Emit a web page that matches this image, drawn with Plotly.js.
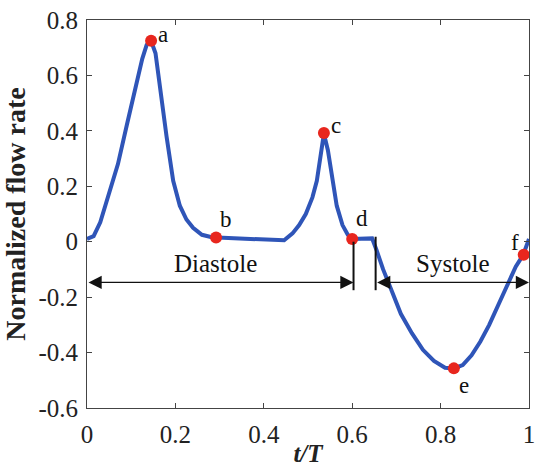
<!DOCTYPE html>
<html>
<head>
<meta charset="utf-8">
<script src="https://cdn.plot.ly/plotly-3.0.1.min.js"></script>
<style>html,body{margin:0;padding:0;background:#fff;}#chart{width:536px;height:467px;}</style>
</head>
<body>
<div id="chart"></div>
<script>
// Flow waveform (t/T, normalized flow rate)
const tValues = [0, 0.015, 0.03, 0.05, 0.07, 0.09, 0.11, 0.125, 0.135, 0.145, 0.155, 0.165, 0.18, 0.195, 0.21, 0.225, 0.24, 0.26, 0.28, 0.295,
  0.35, 0.40, 0.446, 0.465, 0.48, 0.495, 0.51, 0.52, 0.53, 0.536, 0.545, 0.555, 0.565, 0.578, 0.59, 0.6,
  0.62, 0.645, 0.655, 0.67, 0.69, 0.71, 0.735, 0.76, 0.785, 0.81, 0.83, 0.85, 0.87, 0.89, 0.91, 0.93, 0.95, 0.97, 0.987, 1.0];
const flowValues = [0.01, 0.02, 0.07, 0.17, 0.28, 0.42, 0.56, 0.66, 0.71, 0.725, 0.68, 0.55, 0.38, 0.22, 0.13, 0.08, 0.05, 0.025, 0.017, 0.015,
  0.012, 0.008, 0.005, 0.03, 0.06, 0.1, 0.16, 0.22, 0.32, 0.39, 0.33, 0.22, 0.13, 0.06, 0.025, 0.01,
  0.012, 0.012, -0.03, -0.1, -0.18, -0.26, -0.33, -0.39, -0.43, -0.455, -0.457, -0.445, -0.41, -0.36, -0.3, -0.23, -0.16, -0.09, -0.047, 0.01];

// Marked points a–f
const pointNames = ['a', 'b', 'c', 'd', 'e', 'f'];
const pointT = [0.145, 0.292, 0.536, 0.6, 0.83, 0.988];
const pointFlow = [0.725, 0.015, 0.392, 0.01, -0.457, -0.047];

// Phases
const phaseNames = ['Diastole', 'Systole'];
const phaseStart = [0, 0.653];
const phaseEnd = [0.603, 1.0];
const phaseArrowY = [-0.147, -0.147];
const phaseLabelT = [0.29, 0.828];
const phaseLabelY = [-0.078, -0.078];
const boundaryT = [0.603, 0.653];
const boundaryTop = [0.0, 0.018];
const boundaryBottom = [-0.175, -0.175];

// Axis ticks
const xTickVals = [0, 0.2, 0.4, 0.6, 0.8, 1];
const xTickText = ['0', '0.2', '0.4', '0.6', '0.8', '1'];
const yTickVals = [-0.6, -0.4, -0.2, 0, 0.2, 0.4, 0.6, 0.8];
const yTickText = ['-0.6', '-0.4', '-0.2', '0', '0.2', '0.4', '0.6', '0.8'];

const serif = "'Liberation Serif'";

const traces = [
  {x: tValues, y: flowValues, mode: 'lines', line: {color: '#2f55b8', width: 4}, hoverinfo: 'skip'},
  {x: pointT, y: pointFlow, mode: 'markers', marker: {color: '#e8261e', size: 12}, hoverinfo: 'skip'}
];

const labelOffsets = {a: [12, -6], b: [10, -18], c: [12, -8], d: [10, -20], e: [10, 17], f: [-9, -12]};
const annotations = [];
pointNames.forEach((n, i) => {
  annotations.push({x: pointT[i], y: pointFlow[i], text: n, showarrow: false, xref: 'x', yref: 'y',
    xshift: labelOffsets[n][0], yshift: -labelOffsets[n][1], font: {family: serif, size: 23, color: '#111'}});
});
phaseNames.forEach((n, i) => {
  annotations.push({x: phaseLabelT[i], y: phaseLabelY[i], text: n, showarrow: false, xref: 'x', yref: 'y',
    font: {family: serif, size: 25, color: '#111'}});
  annotations.push({x: phaseEnd[i], y: phaseArrowY[i], ax: phaseStart[i], ay: phaseArrowY[i],
    xref: 'x', yref: 'y', axref: 'x', ayref: 'y', text: '', showarrow: true,
    arrowhead: 2, startarrowhead: 2, arrowside: 'end+start', arrowsize: 2.2, startarrowsize: 2.2, arrowwidth: 1.2, arrowcolor: '#111'});
});

const shapes = boundaryT.map((t, i) => ({type: 'line', xref: 'x', yref: 'y', x0: t, x1: t,
  y0: boundaryTop[i], y1: boundaryBottom[i], line: {color: '#111', width: 2}}));

const layout = {
  width: 536, height: 467,
  margin: {l: 87, r: 7, t: 20, b: 59},
  paper_bgcolor: '#fff', plot_bgcolor: '#fff',
  showlegend: false,
  font: {family: serif, color: '#222'},
  xaxis: {range: [0, 1], tickvals: xTickVals, ticktext: xTickText, ticks: 'inside', ticklen: 5, tickcolor: '#444',
    showline: true, linecolor: '#444', linewidth: 1, mirror: 'ticks', showgrid: false, zeroline: false,
    tickfont: {family: serif, size: 25, color: '#222'}, ticklabelstandoff: 4, ticklabeloverflow: 'allow',
    title: {text: '<b><i>t/T</i></b>', font: {family: serif, size: 25, color: '#222'}, standoff: 0}},
  yaxis: {range: [-0.6, 0.8], tickvals: yTickVals, ticktext: yTickText, ticks: 'inside', ticklen: 5, tickcolor: '#444',
    showline: true, linecolor: '#444', linewidth: 1, mirror: 'ticks', showgrid: false, zeroline: false,
    tickfont: {family: serif, size: 25, color: '#222'}, ticklabelstandoff: 3, ticklabeloverflow: 'allow',
    title: {text: '<b>Normalized flow rate</b>', font: {family: serif, size: 28, color: '#222'}, standoff: 4}},
  annotations: annotations,
  shapes: shapes
};

Plotly.newPlot('chart', traces, layout, {staticPlot: true, displayModeBar: false});
</script>
</body>
</html>
